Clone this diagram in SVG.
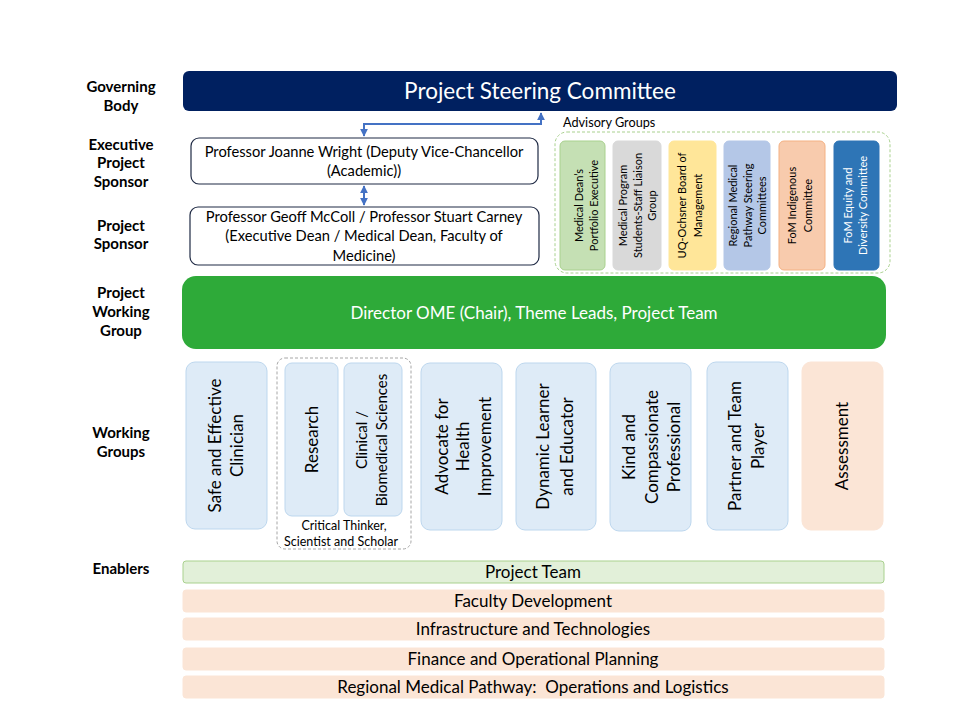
<svg xmlns="http://www.w3.org/2000/svg" width="960" height="720" viewBox="0 0 960 720">
<defs>
<marker id="ah" viewBox="0 0 10 10" refX="9" refY="5" markerWidth="4" markerHeight="4" orient="auto-start-reverse">
<path d="M0,0 L10,5 L0,10 z" fill="#4472C4"/>
</marker>
<style>
text{font-family:Lato,"Open Sans","Liberation Sans",sans-serif;}
.lbl{font-size:15px;font-weight:bold;fill:#000;text-anchor:middle;}
.exec{fill:#fff;stroke:#1F2A44;stroke-width:1.2;}
.et{font-size:14.7px;fill:#000;text-anchor:middle;}
.adv{font-size:11px;text-anchor:middle;fill:#000;}
.wg{fill:#DEEBF7;stroke:#BDD7EE;stroke-width:1;}
.wgt{font-size:17px;text-anchor:middle;fill:#000;}
.en{fill:#FBE5D6;stroke:#FBE5D6;}
.ent{font-size:17px;text-anchor:middle;fill:#000;white-space:pre;}
.conn{stroke:#4472C4;stroke-width:2;fill:none;}
</style>
</defs>
<rect width="960" height="720" fill="#fff"/>

<g id="labels">
<text class="lbl" x="121" y="92">Governing</text>
<text class="lbl" x="121" y="111">Body</text>
<text class="lbl" x="121" y="150">Executive</text>
<text class="lbl" x="121" y="168">Project</text>
<text class="lbl" x="121" y="187">Sponsor</text>
<text class="lbl" x="121" y="231">Project</text>
<text class="lbl" x="121" y="249">Sponsor</text>
<text class="lbl" x="121" y="298">Project</text>
<text class="lbl" x="121" y="317">Working</text>
<text class="lbl" x="121" y="336">Group</text>
<text class="lbl" x="121" y="438">Working</text>
<text class="lbl" x="121" y="457">Groups</text>
<text class="lbl" x="121" y="574">Enablers</text>
</g>

<g id="steering">
<rect x="183" y="71" width="714" height="40" rx="6" fill="#002060"/>
<text x="540" y="99" font-size="22.5" fill="#fff" text-anchor="middle">Project Steering Committee</text>
</g>

<g id="connectors">
<polyline class="conn" points="364,136 364,124 541,124 541,113" marker-start="url(#ah)" marker-end="url(#ah)"/>
<line class="conn" x1="364" y1="186" x2="364" y2="205" marker-start="url(#ah)" marker-end="url(#ah)"/>
</g>

<g id="exec-sponsor">
<rect class="exec" x="191" y="138" width="347" height="46" rx="8"/>
<text class="et" x="364" y="157">Professor Joanne Wright (Deputy Vice-Chancellor</text>
<text class="et" x="364" y="176">(Academic))</text>
</g>

<g id="project-sponsor">
<rect class="exec" x="190" y="207" width="349" height="58" rx="8"/>
<text class="et" x="364" y="222">Professor Geoff McColl / Professor Stuart Carney</text>
<text class="et" x="364" y="241">(Executive Dean / Medical Dean, Faculty of</text>
<text class="et" x="364" y="261">Medicine)</text>
</g>

<g id="advisory">
<text x="563" y="127" font-size="12.7" fill="#000">Advisory Groups</text>
<rect x="555" y="132" width="335" height="141" rx="12" fill="none" stroke="#A9D18E" stroke-width="1" stroke-dasharray="3,2"/>
</g>
<g id="adv1">
<rect x="560" y="141" width="45" height="129" rx="5" fill="#C5E0B4" stroke="#A9D18E"/>
<text class="adv" transform="translate(582.5,205.5) rotate(-90)"><tspan x="0" y="0">Medical Dean’s</tspan><tspan x="0" y="15">Portfolio Executive</tspan></text>
</g>
<g id="adv2">
<rect x="613" y="141" width="48" height="129" rx="5" fill="#D9D9D9" stroke="#D9D9D9"/>
<text class="adv" transform="translate(637,205.5) rotate(-90)"><tspan x="0" y="-10">Medical Program</tspan><tspan x="0" y="5">Students-Staff Liaison</tspan><tspan x="0" y="19">Group</tspan></text>
</g>
<g id="adv3">
<rect x="669" y="141" width="47" height="129" rx="5" fill="#FFE699" stroke="#FFE699"/>
<text class="adv" transform="translate(692.5,205.5) rotate(-90)"><tspan x="0" y="-6.5">UQ-Ochsner Board of</tspan><tspan x="0" y="9.5">Management</tspan></text>
</g>
<g id="adv4">
<rect x="724" y="141" width="46" height="129" rx="5" fill="#B4C7E7" stroke="#B4C7E7"/>
<text class="adv" transform="translate(747,205.5) rotate(-90)"><tspan x="0" y="-10">Regional Medical</tspan><tspan x="0" y="5">Pathway Steering</tspan><tspan x="0" y="19">Committees</tspan></text>
</g>
<g id="adv5">
<rect x="779" y="141" width="46" height="129" rx="5" fill="#F8CBAD" stroke="#F4B183"/>
<text class="adv" transform="translate(802,205.5) rotate(-90)"><tspan x="0" y="-6">FoM Indigenous</tspan><tspan x="0" y="10">Committee</tspan></text>
</g>
<g id="adv6">
<rect x="834" y="141" width="45" height="129" rx="5" fill="#2E75B6" stroke="#2E75B6"/>
<text class="adv" style="fill:#fff" transform="translate(856.5,205.5) rotate(-90)"><tspan x="0" y="-4.5">FoM Equity and</tspan><tspan x="0" y="10.5">Diversity Committee</tspan></text>
</g>

<g id="working-group">
<rect x="182" y="276" width="704" height="73" rx="14" fill="#2EAA39"/>
<text x="534" y="319" font-size="17" fill="#fff" text-anchor="middle">Director OME (Chair), Theme Leads, Project Team</text>
</g>

<g id="wg-safe">
<rect class="wg" x="186" y="362" width="81" height="167" rx="9"/>
<text class="wgt" transform="translate(226.5,445.5) rotate(-90)"><tspan x="0" y="-5.5">Safe and Effective</tspan><tspan x="0" y="16.5">Clinician</tspan></text>
</g>
<g id="wg-critical">
<rect x="277" y="358" width="134" height="191" rx="8" fill="none" stroke="#A6A6A6" stroke-width="1" stroke-dasharray="3,2"/>
<text x="344" y="530" font-size="12.5" text-anchor="middle" fill="#000">Critical Thinker,</text>
<text x="341" y="546" font-size="12.5" text-anchor="middle" fill="#000">Scientist and Scholar</text>
</g>
<g id="wg-research">
<rect class="wg" x="285" y="363" width="53" height="153" rx="7"/>
<text class="wgt" transform="translate(311.5,439.5) rotate(-90)"><tspan x="0" y="6">Research</tspan></text>
</g>
<g id="wg-clinical">
<rect class="wg" x="344" y="363" width="58" height="153" rx="7"/>
<text class="wgt" style="font-size:15px" transform="translate(373,440) rotate(-90)"><tspan x="0" y="-6">Clinical /</tspan><tspan x="0" y="14">Biomedical Sciences</tspan></text>
</g>
<g id="wg-advocate">
<rect class="wg" x="421" y="363" width="81" height="167" rx="9"/>
<text class="wgt" transform="translate(461.5,446.5) rotate(-90)"><tspan x="0" y="-13.5">Advocate for</tspan><tspan x="0" y="7.5">Health</tspan><tspan x="0" y="29.5">Improvement</tspan></text>
</g>
<g id="wg-dynamic">
<rect class="wg" x="516" y="363" width="80" height="167" rx="9"/>
<text class="wgt" transform="translate(556,446.5) rotate(-90)"><tspan x="0" y="-7">Dynamic Learner</tspan><tspan x="0" y="17">and Educator</tspan></text>
</g>
<g id="wg-kind">
<rect class="wg" x="610" y="363" width="81" height="168" rx="9"/>
<text class="wgt" transform="translate(650.5,447) rotate(-90)"><tspan x="0" y="-16">Kind and</tspan><tspan x="0" y="7">Compassionate</tspan><tspan x="0" y="29">Professional</tspan></text>
</g>
<g id="wg-partner">
<rect class="wg" x="707" y="362" width="81" height="168" rx="9"/>
<text class="wgt" transform="translate(747.5,446) rotate(-90)"><tspan x="0" y="-6.5">Partner and Team</tspan><tspan x="0" y="16.5">Player</tspan></text>
</g>
<g id="wg-assessment">
<rect x="802" y="362" width="81" height="168" rx="9" fill="#FBE5D6" stroke="#FBE5D6"/>
<text class="wgt" transform="translate(842.5,446) rotate(-90)"><tspan x="0" y="5.5">Assessment</tspan></text>
</g>

<g id="en-team">
<rect x="183" y="561" width="701" height="22" rx="3" fill="#E2F0D9" stroke="#A9D18E"/>
<text class="ent" x="533" y="578">Project Team</text>
</g>
<g id="en-faculty">
<rect class="en" x="183" y="590" width="701" height="22" rx="3"/>
<text class="ent" x="533" y="607">Faculty Development</text>
</g>
<g id="en-infra">
<rect class="en" x="183" y="618" width="701" height="22" rx="3"/>
<text class="ent" x="533" y="635">Infrastructure and Technologies</text>
</g>
<g id="en-finance">
<rect class="en" x="183" y="648" width="701" height="22" rx="3"/>
<text class="ent" x="533" y="665">Finance and Operational Planning</text>
</g>
<g id="en-regional">
<rect class="en" x="183" y="676" width="701" height="22" rx="3"/>
<text class="ent" x="533" y="693" xml:space="preserve">Regional Medical Pathway:  Operations and Logistics</text>
</g>
</svg>
